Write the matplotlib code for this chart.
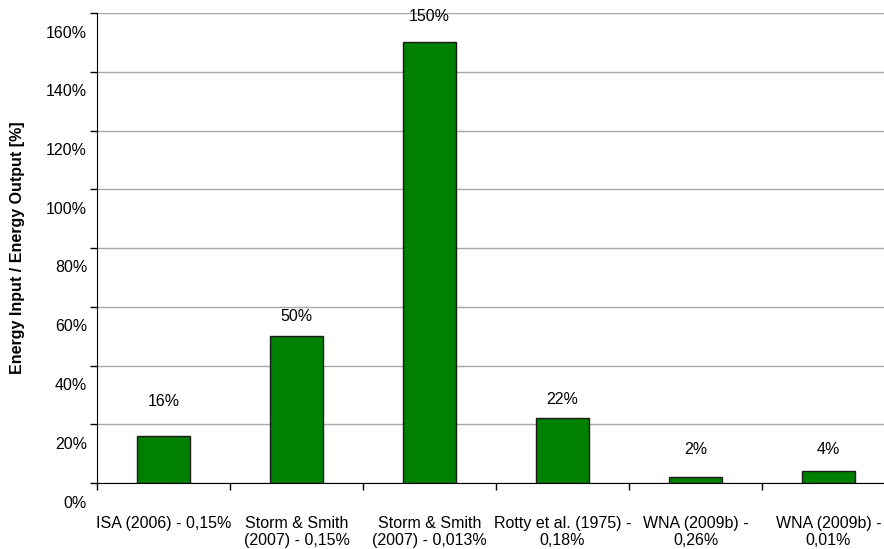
import matplotlib
matplotlib.use("Agg")
import matplotlib.pyplot as plt
import matplotlib.transforms as mtransforms
import numpy as np

plt.rcParams['font.family'] = ['Liberation Sans', 'DejaVu Sans']

categories = ["ISA (2006) - 0,15%",
              "Storm & Smith\n(2007) - 0,15%",
              "Storm & Smith\n(2007) - 0,013%",
              "Rotty et al. (1975) -\n0,18%",
              "WNA (2009b) -\n0,26%",
              "WNA (2009b) -\n0,01%"]
values = [16, 50, 150, 22, 2, 4]
value_labels = ["16%", "50%", "150%", "22%", "2%", "4%"]
label_offsets_px = [35, 20, 26, 19, 28, 22]
yticks = [0, 20, 40, 60, 80, 100, 120, 140, 160]
ytick_labels = ["0%", "20%", "40%", "60%", "80%", "100%", "120%", "140%", "160%"]

FS = 11.5

fig = plt.figure(figsize=(8.84, 5.49), dpi=100)
ax = fig.add_axes([97/884, 66/549, 798/884, 470/549])

x = np.arange(len(values))
ax.bar(x, values, width=0.4, color='#008000', edgecolor='#1a1a1a', linewidth=1.0, zorder=3)

for xi, v, lab, off in zip(x, values, value_labels, label_offsets_px):
    ax.annotate(lab, (xi, v), xytext=(0, off), textcoords='offset pixels',
                ha='center', va='center', fontsize=FS, zorder=4)

ax.set_xlim(-0.5, len(values) - 0.5)
ax.set_ylim(0, 160)
ax.set_yticks(yticks)
ax.set_yticklabels([])
ax.yaxis.grid(True, color='#a8a8a8', linewidth=1.0, zorder=0)
ax.set_axisbelow(True)

# y tick labels drawn shifted downward, as in the reference
trans = mtransforms.blended_transform_factory(ax.transAxes, ax.transData) + \
    mtransforms.ScaledTranslation(-10/100, -20/100, fig.dpi_scale_trans)
for yv, lab in zip(yticks, ytick_labels):
    ax.text(0, yv, lab, transform=trans, ha='right', va='center', fontsize=FS, clip_on=False)

ax.tick_params(axis='y', direction='out', length=5, width=1, color='black')

ax.set_xticks(x)
ax.set_xticklabels(categories, fontsize=FS, linespacing=1.1)
ax.set_xticks(np.arange(-0.5, len(values), 1.0), minor=True)
ax.tick_params(axis='x', which='major', length=0, pad=24)
ax.tick_params(axis='x', which='minor', direction='out', length=5, width=1, color='black')

for s in ['top', 'right']:
    ax.spines[s].set_visible(False)
ax.spines['left'].set_color('black')
ax.spines['bottom'].set_color('black')

fig.text(18/884, 1 - 248/549, "Energy Input / Energy Output [%]", rotation=90,
         ha='center', va='center', fontsize=FS, fontweight='bold')

fig.savefig("out.png", dpi=100)
